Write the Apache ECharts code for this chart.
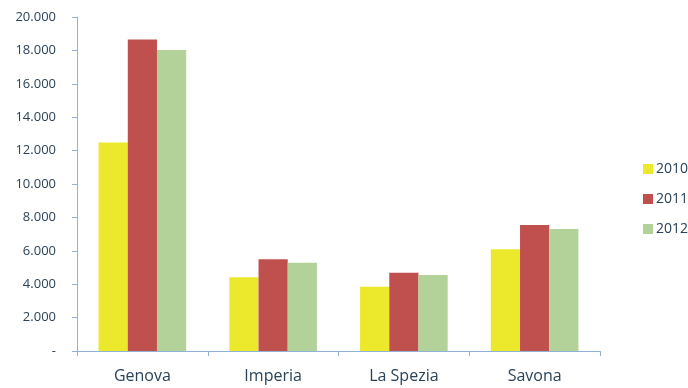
<!DOCTYPE html>
<html>
<head>
<meta charset="utf-8">
<script src="https://cdn.jsdelivr.net/npm/echarts@6/dist/echarts.min.js"></script>
<style>
  html, body { margin: 0; padding: 0; background: #fff; }
  #chart { width: 688px; height: 388px; }
</style>
</head>
<body>
<div id="chart"></div>
<script>
// Provinces of Liguria
const categories = ['Genova', 'Imperia', 'La Spezia', 'Savona'];
const years = ['2010', '2011', '2012'];
const values2010 = [12480, 4410, 3850, 6090];
const values2011 = [18660, 5500, 4690, 7540];
const values2012 = [18020, 5290, 4550, 7300];
const colors = ['#ece82c', '#c0504d', '#b3d29a'];

const textColor = '#2a4258';
const axisColor = '#8fb3d6';

// Italian thousands separator, zero shown as a dash
function fmt(v) {
  if (v === 0) return '-';
  return String(v).replace(/\B(?=(\d{3})+(?!\d))/g, '.');
}

const seriesValues = [values2010, values2011, values2012];
const chart = echarts.init(document.getElementById('chart'));
chart.setOption({
  animation: false,
  textStyle: { fontFamily: 'Open Sans, sans-serif' },
  grid: { left: 77, right: 88, top: 17, bottom: 37 },
  legend: {
    orient: 'vertical',
    left: 638, top: 157,
    itemWidth: 10, itemHeight: 10, itemGap: 16,
    icon: 'rect',
    textStyle: { color: textColor, fontSize: 14, padding: [0, 0, 0, -2] },
    data: years
  },
  xAxis: {
    type: 'category',
    data: categories,
    axisLine: { lineStyle: { color: axisColor, width: 1 } },
    axisTick: { show: true, alignWithLabel: false, length: 5, lineStyle: { color: axisColor } },
    axisLabel: { color: textColor, fontSize: 16, margin: 17 }
  },
  yAxis: {
    type: 'value',
    min: 0, max: 20000, interval: 2000,
    axisLine: { show: true, lineStyle: { color: axisColor, width: 1 } },
    axisTick: { show: true, length: 5, lineStyle: { color: axisColor } },
    splitLine: { show: false },
    axisLabel: { color: textColor, fontSize: 13, margin: 21, formatter: fmt }
  },
  series: years.map((y, i) => ({
    name: y,
    type: 'bar',
    data: seriesValues[i],
    itemStyle: { color: colors[i] },
    barGap: '0%',
    barCategoryGap: '33%'
  }))
});
</script>
</body>
</html>
